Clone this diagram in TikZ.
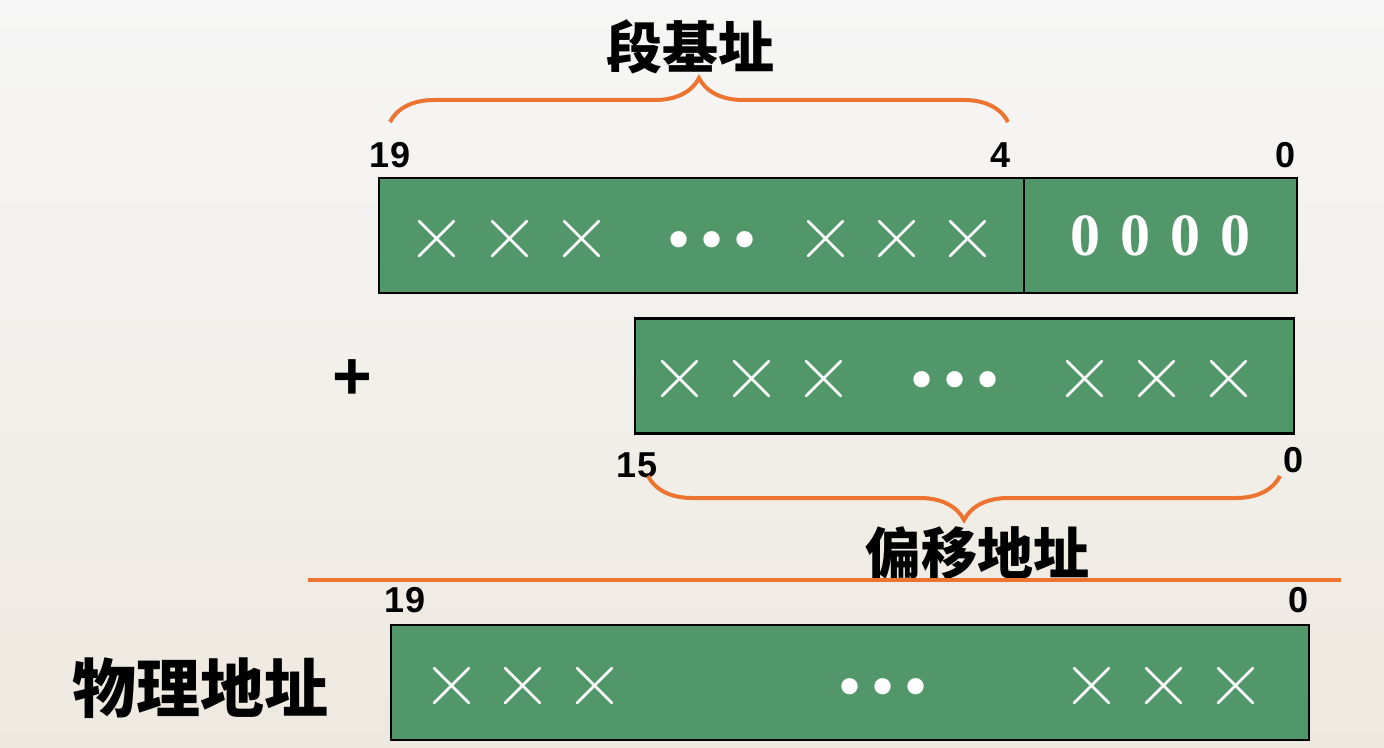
\documentclass[tikz,border=0pt]{standalone}
\usepackage{fontspec}
\newfontfamily\cjk{Noto Sans CJK SC}
\newfontfamily\numfont{Liberation Sans}
\newfontfamily\zerofont{Liberation Serif}
\newfontfamily\symfont{DejaVu Sans}
\usetikzlibrary{positioning,decorations.pathreplacing}
\definecolor{fieldgreen}{RGB}{82,151,106}
\definecolor{braceorange}{RGB}{237,116,48}
\definecolor{papertop}{RGB}{246,246,246}
\definecolor{paperbottom}{RGB}{238,233,224}
\tikzset{
  field/.style={draw=black, line width=1.2pt, fill=fieldgreen, minimum height=57.5pt, inner sep=0pt, text=white},
  bitno/.style={font=\numfont\bfseries\fontsize{18}{18}\selectfont},
  crossmark/.style={text=white, font=\fontsize{41}{41}\selectfont, inner sep=0pt},
  dotmark/.style={text=white, font=\symfont\fontsize{28}{28}\selectfont, inner sep=0pt},
  cnlabel/.style={font=\cjk\bfseries\fontsize{28}{28}\selectfont},
  bracket/.style={draw=braceorange, line width=2pt, decorate, decoration={brace, amplitude=22pt}}
}
\begin{document}
\begin{tikzpicture}[x=0.5pt,y=-0.5pt]
    \shade [top color=papertop, bottom color=paperbottom] (0,0) rectangle (1384,748);
    \useasboundingbox (0,0) rectangle (1384,748);
    % segment register shifted left by 4
    \node [field, minimum width=322.5pt] (base) at (701.5,235.5) {};
    \node [field, minimum width=136.5pt] (zero) at (1160.5,235.5) {\zerofont\bfseries\fontsize{30}{30}\selectfont 0\,\,0\,\,0\,\,0};
    \node [bitno] (b19) at (390,155) {19};
    \node [bitno] (b4) at (1000,155) {4};
    \node [bitno] (b0) at (1285,155) {0};
    \coordinate (segL) at (390,122);
    \coordinate (segR) at (1008,122);
    \draw [bracket] (segL) -- (segR);
    \node [cnlabel] (seglabel) at (690,47) {段基址};
    % offset
    \node [font=\numfont\bfseries\fontsize{34}{34}\selectfont] (plus) at (352,380) {+};
    \node [field, minimum width=329.5pt] (offset) at (964.5,376) {};
    \node [bitno] (o15) at (637,465) {15};
    \node [bitno] (o0) at (1293,460) {0};
    \coordinate (offL) at (648,476);
    \coordinate (offR) at (1280,476);
    \draw [bracket] (offR) -- (offL);
    \node [cnlabel] (offlabel) at (977,553) {偏移地址};
    % sum line
    \coordinate (ruleL) at (308,580);
    \coordinate (ruleR) at (1341,580);
    \draw [draw=braceorange, line width=2pt] (ruleL) -- (ruleR);
    % physical address
    \node [bitno] (p19) at (405,600) {19};
    \node [bitno] (p0) at (1298,600) {0};
    \node [field, minimum width=459pt] (phys) at (850,682.5) {};
    \node [cnlabel, font=\cjk\bfseries\fontsize{32}{32}\selectfont] (physlabel) at (200,688) {物理地址};
    % bits
    \foreach \x in {437,510,582,826,897,968} \node [crossmark] (s\x) at (\x,240) {×};
    \foreach \x in {680,752,824,1085,1157,1229} \node [crossmark] (f\x) at (\x,380) {×};
    \foreach \x in {452,523,595,1092,1164,1236} \node [crossmark] (a\x) at (\x,687) {×};
    \node [dotmark] (sdots) at (712,246) {•••};
    \node [dotmark] (fdots) at (955,386) {•••};
    \node [dotmark] (adots) at (883,693) {•••};
\end{tikzpicture}
\end{document}
